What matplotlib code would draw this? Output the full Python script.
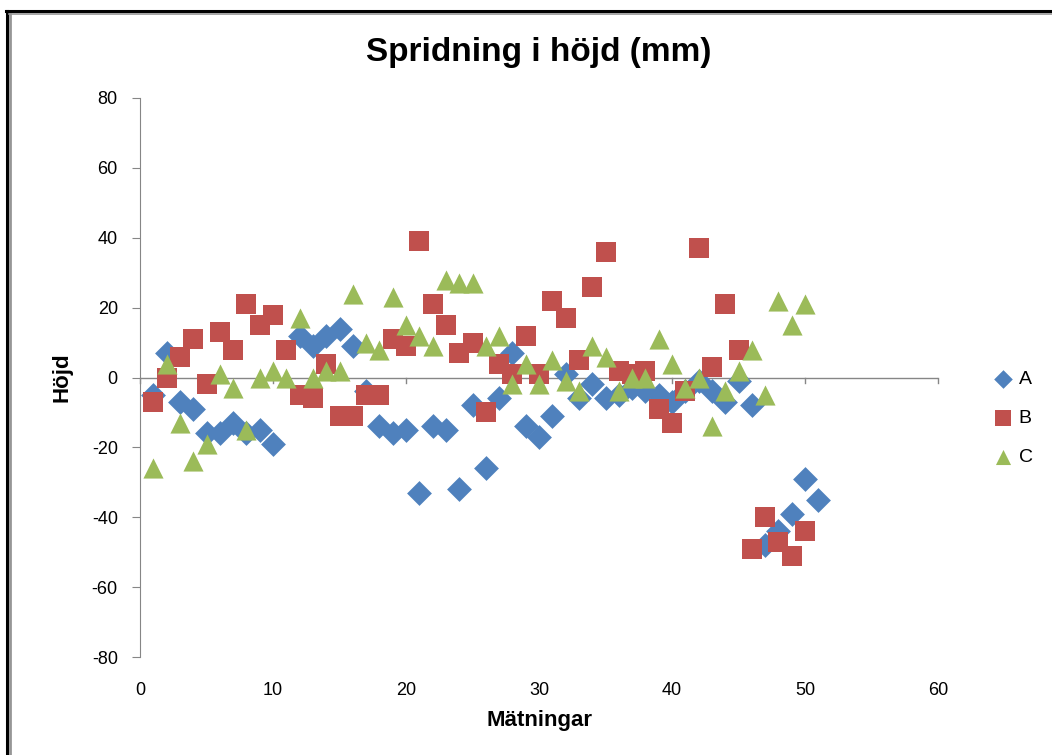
import matplotlib
matplotlib.use("Agg")
import matplotlib.pyplot as plt
from matplotlib.lines import Line2D

plt.rcParams["font.family"] = ["Liberation Sans", "DejaVu Sans"]
plt.rcParams["axes.unicode_minus"] = False

# Data (A at x=11 is hidden behind other markers)
x_a = [1, 2, 3, 4, 5, 6, 7, 8, 9, 10,
       12, 13, 14, 15, 16, 17, 18, 19, 20,
       21, 22, 23, 24, 25, 26, 27, 28, 29, 30,
       31, 32, 33, 34, 35, 36, 37, 38, 39, 40,
       41, 42, 43, 44, 45, 46, 47, 48, 49, 50,
       51]
a = [-5, 7, -7, -9, -16, -16, -13, -16, -15, -19,
     12, 9, 12, 14, 9, -4, -14, -16, -15,
     -33, -14, -15, -32, -8, -26, -6, 7, -14, -17,
     -11, 1, -6, -2, -6, -5, -3, -4, -5, -7,
     -4, -1, -4, -7, -1, -8, -48, -44, -39, -29,
     -35]

x_bc = list(range(1, 51))
b = [-7, 0, 6, 11, -2, 13, 8, 21, 15, 18,
     8, -5, -6, 4, -11, -11, -5, -5, 11, 9,
     39, 21, 15, 7, 10, -10, 4, 1, 12, 1,
     22, 17, 5, 26, 36, 2, 1, 2, -9, -13,
     -4, 37, 3, 21, 8, -49, -40, -47, -51, -44]
c = [-26, 4, -13, -24, -19, 1, -3, -15, 0, 2,
     0, 17, 0, 2, 2, 24, 10, 8, 23, 15,
     12, 9, 28, 27, 27, 9, 12, -2, 4, -2,
     5, -1, -4, 9, 6, -4, 0, 0, 11, 4,
     -3, 0, -14, -4, 2, 8, -5, 22, 15, 21]

W, H = 1052, 755
fig = plt.figure(figsize=(W / 100, H / 100), dpi=100)

# chart-area border (only left and top edges visible in the original)
fig.lines.append(Line2D([7 / W, 7 / W], [0, 1 - 11 / H], transform=fig.transFigure,
                        color="black", linewidth=2.2))
fig.lines.append(Line2D([9.8 / W, 9.8 / W], [0, 1 - 13 / H], transform=fig.transFigure,
                        color="#969696", linewidth=2))
fig.lines.append(Line2D([6 / W, 1], [1 - 11 / H, 1 - 11 / H], transform=fig.transFigure,
                        color="black", linewidth=2.2))
fig.lines.append(Line2D([9 / W, 1], [1 - 13.5 / H, 1 - 13.5 / H], transform=fig.transFigure,
                        color="#969696", linewidth=1.2))

ax = fig.add_axes([140 / W, 1 - 657 / H, 798 / W, 559 / H])

ax.scatter(x_a, a, marker="D", s=160, color="#4F81BD", label="A", zorder=3, linewidths=0)
ax.scatter(x_bc, b, marker="s", s=220, color="#C0504D", label="B", zorder=4, linewidths=0)
ax.scatter(x_bc, c, marker="^", s=210, color="#9BBB59", label="C", zorder=5, linewidths=0)

ax.set_xlim(0, 60)
ax.set_ylim(-80, 80)
ax.set_xticks(range(0, 61, 10))
ax.set_yticks(range(-80, 81, 20))

# Excel-like axes: y axis at left, x axis line crossing at 0
for side in ["top", "right", "bottom"]:
    ax.spines[side].set_visible(False)
ax.spines["left"].set_color("#868686")
ax.axhline(0, color="#868686", linewidth=1, zorder=1)
for xv in range(0, 61, 10):
    ax.plot([xv, xv], [0, -1.5], color="#868686", linewidth=1, zorder=1, clip_on=False)

ax.tick_params(axis="y", direction="out", length=6, color="#868686", labelsize=13, pad=10)
ax.tick_params(axis="x", length=0, labelsize=13, pad=18)

ax.set_title("Spridning i höjd (mm)", fontsize=24, fontweight="bold", pad=27)
ax.set_xlabel("Mätningar", fontsize=16, fontweight="bold", labelpad=8)
ax.set_ylabel("Höjd", fontsize=16, fontweight="bold", labelpad=14)

handles, labels = ax.get_legend_handles_labels()
fig.legend(handles, labels, loc="center left", bbox_to_anchor=(976 / W, 1 - 418 / H),
           frameon=False, fontsize=14, handlelength=1.0, handletextpad=0.3,
           labelspacing=1.1, markerscale=0.75)

fig.savefig("out.png", dpi=100)
